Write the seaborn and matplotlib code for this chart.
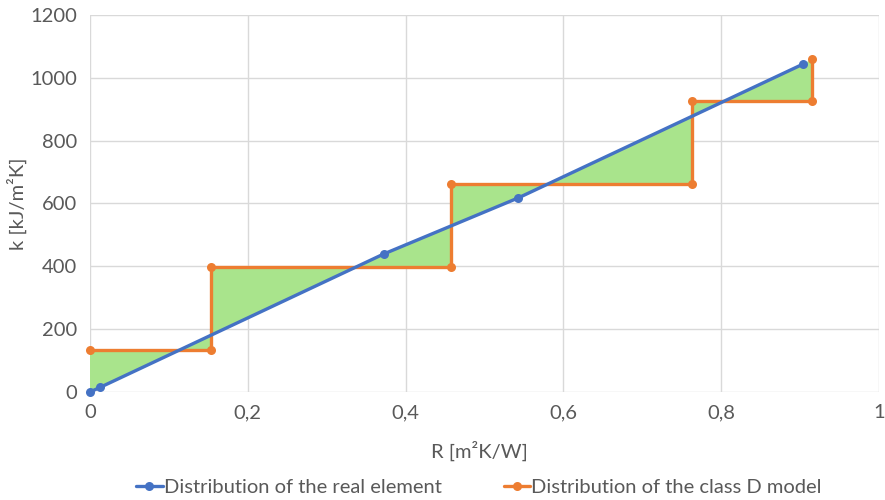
import matplotlib
matplotlib.use("Agg")
import matplotlib.pyplot as plt
import numpy as np
import pandas as pd
import seaborn as sns

# real element distribution
real_R = [0.0, 0.013, 0.372, 0.543, 0.904]
real_k = [0, 15, 439, 618, 1044]

# class D model distribution (step)
model_R = [0.0, 0.153, 0.153, 0.458, 0.458, 0.763, 0.763, 0.915, 0.915]
model_k = [133, 133, 397, 397, 661, 661, 927, 927, 1059]

x_ticks = [0, 0.2, 0.4, 0.6, 0.8, 1.0]
x_ticklabels = ["0", "0,2", "0,4", "0,6", "0,8", "1"]
y_ticks = [0, 200, 400, 600, 800, 1000, 1200]

blue = "#4472C4"
orange = "#ED7D31"
green = "#A9E48C"
grey = "#595959"

sns.set_theme(style="white")
plt.rcParams["font.family"] = ["Lato", "DejaVu Sans"]

df_real = pd.DataFrame({"R": real_R, "k": real_k})
df_model = pd.DataFrame({"R": model_R, "k": model_k})

fig = plt.figure(figsize=(8.85, 5), dpi=100)
ax = fig.add_axes([0.1017, 0.216, 0.8915, 0.754])

# green area between the two distributions: model path forward, real path back
poly_x = list(model_R) + real_R[::-1]
poly_y = list(model_k) + real_k[::-1]
ax.fill(poly_x, poly_y, color=green, lw=0, zorder=1)

sns.lineplot(data=df_real, x="R", y="k", ax=ax, color=blue, lw=2.4,
             marker="o", markersize=6.5, markeredgewidth=0, sort=False,
             estimator=None, label="Distribution of the real element",
             zorder=3, clip_on=False)
sns.lineplot(data=df_model, x="R", y="k", ax=ax, color=orange, lw=2.4,
             marker="o", markersize=6.5, markeredgewidth=0, sort=False,
             estimator=None, label="Distribution of the class D model",
             zorder=2, clip_on=False)

ax.set_xlim(0, 1)
ax.set_ylim(0, 1200)
ax.set_xticks(x_ticks)
ax.set_xticklabels(x_ticklabels)
ax.set_yticks(y_ticks)
ax.grid(True, color="#D9D9D9", lw=1)
ax.set_axisbelow(True)
for s in ax.spines.values():
    s.set_visible(False)
ax.tick_params(axis="both", colors=grey, labelsize=14.5, length=0, pad=9)

ax.set_xlabel("R [m²K/W]", fontsize=14.5, color=grey)
ax.set_ylabel("k [kJ/m²K]", fontsize=14.5, color=grey)
ax.xaxis.set_label_coords(0.493, -0.13)
ax.yaxis.set_label_coords(-0.08, 0.5)

ax.legend(loc="upper center", bbox_to_anchor=(0.493, -0.183), ncol=2, frameon=False,
          fontsize=14.5, labelcolor=grey, handlelength=1.3, handletextpad=0.05,
          columnspacing=3.1)

fig.savefig("out.png", dpi=100)
